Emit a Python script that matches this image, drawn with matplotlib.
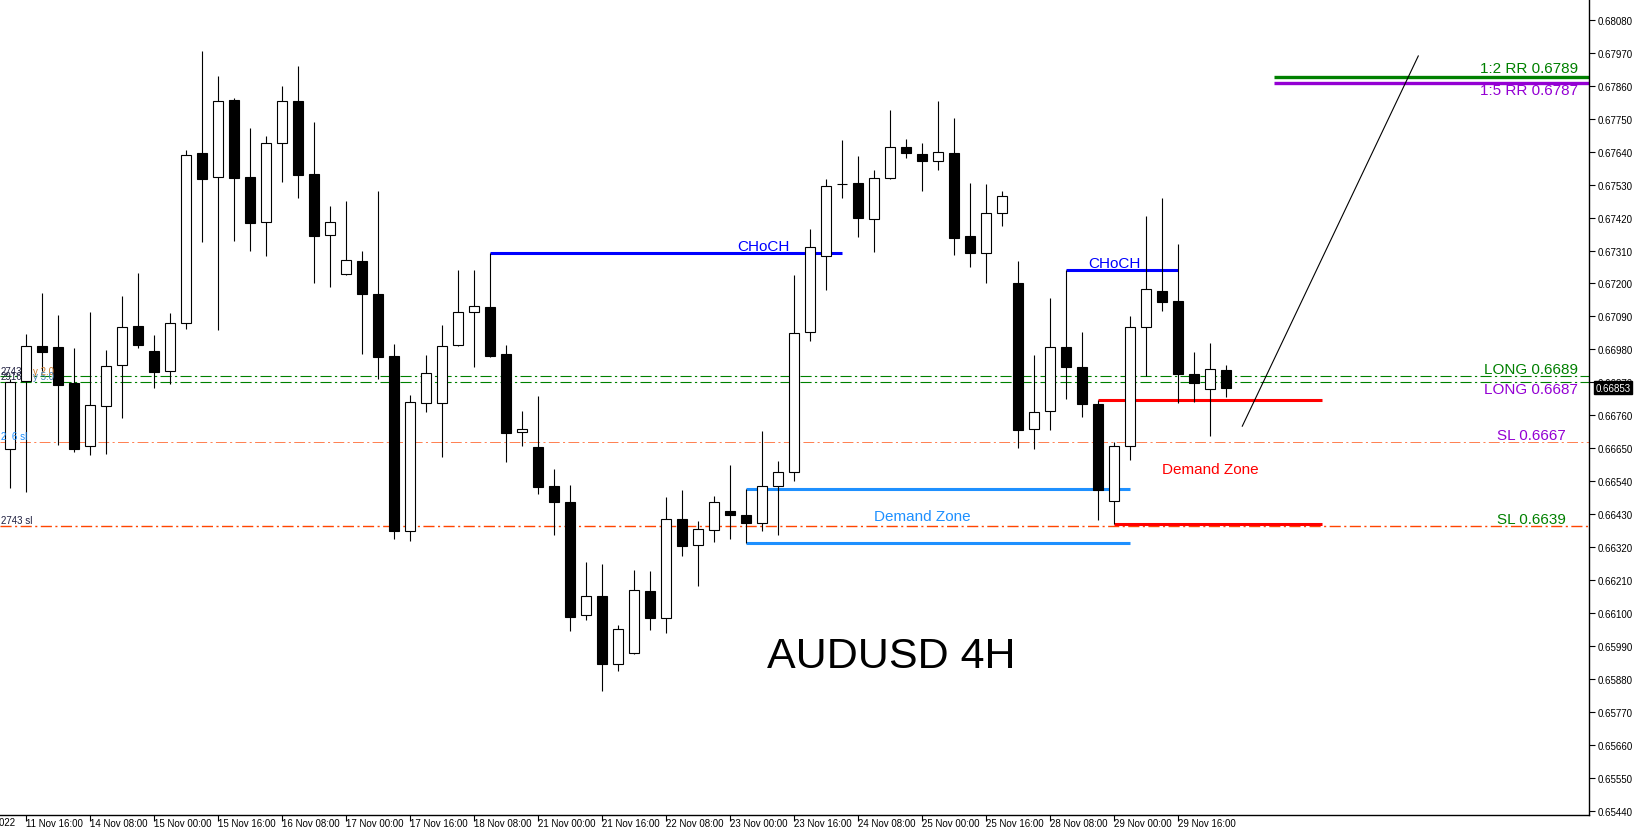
"""
AUDUSD 4H candlestick chart with trade levels (MT4 style screenshot).
"""

import matplotlib
matplotlib.use("Agg")  # no display needed
import matplotlib.pyplot as plt
from matplotlib.patches import Rectangle
from matplotlib.transforms import blended_transform_factory

plt.rcParams["font.family"] = ["Liberation Sans", "DejaVu Sans"]

# OHLC, one row per 4H bar starting 11 Nov 12:00
opens = [0.66648, 0.66875, 0.66991, 0.66988, 0.66868, 0.66658, 0.66791, 0.66928,
         0.67058, 0.66975, 0.66908, 0.67068, 0.67635, 0.67555, 0.67812, 0.67555,
         0.67405, 0.67669, 0.67809, 0.67565, 0.67362, 0.67232, 0.67275, 0.67165,
         0.66958, 0.66374, 0.66801, 0.66801, 0.66995, 0.67105, 0.67121, 0.66965,
         0.66704, 0.66654, 0.66524, 0.66471, 0.66094, 0.66157, 0.65930, 0.65967,
         0.66174, 0.66084, 0.66414, 0.66327, 0.66377, 0.66441, 0.66427, 0.66401,
         0.66524, 0.66571, 0.67038, 0.67292, 0.67531, 0.67535, 0.67415, 0.67552,
         0.67655, 0.67632, 0.67609, 0.67635, 0.67358, 0.67302, 0.67435, 0.67202,
         0.66714, 0.66774, 0.66988, 0.66921, 0.66798, 0.66474, 0.66658, 0.67055,
         0.67175, 0.67141, 0.66898, 0.66848, 0.66911]
highs = [0.66881, 0.67031, 0.67168, 0.67095, 0.66985, 0.67105, 0.66978, 0.67158,
         0.67235, 0.67028, 0.67101, 0.67645, 0.67976, 0.67892, 0.67819, 0.67719,
         0.67692, 0.67859, 0.67926, 0.67739, 0.67458, 0.67475, 0.67308, 0.67508,
         0.66998, 0.66828, 0.66961, 0.67061, 0.67245, 0.67245, 0.67302, 0.66995,
         0.66774, 0.66825, 0.66581, 0.66528, 0.66271, 0.66264, 0.66061, 0.66244,
         0.66241, 0.66488, 0.66511, 0.66407, 0.66491, 0.66594, 0.66514, 0.66708,
         0.66608, 0.67228, 0.67382, 0.67548, 0.67679, 0.67625, 0.67579, 0.67779,
         0.67682, 0.67669, 0.67809, 0.67752, 0.67535, 0.67532, 0.67508, 0.67275,
         0.66961, 0.67151, 0.67245, 0.67038, 0.66811, 0.66671, 0.67091, 0.67425,
         0.67485, 0.67332, 0.66971, 0.67001, 0.66928]
lows = [0.66518, 0.66504, 0.66908, 0.66661, 0.66638, 0.66628, 0.66631, 0.66751,
        0.66985, 0.66851, 0.66865, 0.67048, 0.67338, 0.67045, 0.67342, 0.67308,
        0.67292, 0.67539, 0.67485, 0.67202, 0.67188, 0.67228, 0.66965, 0.66881,
        0.66347, 0.66341, 0.66771, 0.66621, 0.66991, 0.66921, 0.66955, 0.66604,
        0.66658, 0.66498, 0.66361, 0.66041, 0.66077, 0.65840, 0.65907, 0.65964,
        0.66044, 0.66034, 0.66291, 0.66191, 0.66337, 0.66347, 0.66334, 0.66374,
        0.66361, 0.66541, 0.67008, 0.67178, 0.67485, 0.67355, 0.67305, 0.67548,
        0.67619, 0.67508, 0.67579, 0.67295, 0.67255, 0.67202, 0.67392, 0.66651,
        0.66648, 0.66711, 0.66815, 0.66754, 0.66411, 0.66397, 0.66611, 0.66891,
        0.67108, 0.66801, 0.66805, 0.66691, 0.66821]
closes = [0.66871, 0.66991, 0.66971, 0.66861, 0.66648, 0.66795, 0.66925, 0.67055,
          0.66995, 0.66905, 0.67068, 0.67629, 0.67548, 0.67809, 0.67552, 0.67402,
          0.67669, 0.67809, 0.67562, 0.67358, 0.67405, 0.67278, 0.67165, 0.66955,
          0.66374, 0.66805, 0.66901, 0.66991, 0.67105, 0.67125, 0.66958, 0.66701,
          0.66714, 0.66521, 0.66471, 0.66087, 0.66157, 0.65930, 0.66047, 0.66177,
          0.66084, 0.66414, 0.66324, 0.66381, 0.66471, 0.66427, 0.66401, 0.66524,
          0.66571, 0.67035, 0.67322, 0.67525, 0.67531, 0.67418, 0.67552, 0.67655,
          0.67635, 0.67609, 0.67639, 0.67352, 0.67302, 0.67435, 0.67492, 0.66711,
          0.66771, 0.66988, 0.66921, 0.66798, 0.66511, 0.66658, 0.67055, 0.67182,
          0.67138, 0.66898, 0.66868, 0.66915, 0.66853]

# time axis labels, one every 4 bars starting at bar 1
x_labels = ["11 Nov 16:00", "14 Nov 08:00", "15 Nov 00:00", "15 Nov 16:00",
            "16 Nov 08:00", "17 Nov 00:00", "17 Nov 16:00", "18 Nov 08:00",
            "21 Nov 00:00", "21 Nov 16:00", "22 Nov 08:00", "23 Nov 00:00",
            "23 Nov 16:00", "24 Nov 08:00", "25 Nov 00:00", "25 Nov 16:00",
            "28 Nov 08:00", "29 Nov 00:00", "29 Nov 16:00"]

y_ticks = [0.65440, 0.65550, 0.65660, 0.65770, 0.65880, 0.65990, 0.66100,
           0.66210, 0.66320, 0.66430, 0.66540, 0.66650, 0.66760, 0.66870,
           0.66980, 0.67090, 0.67200, 0.67310, 0.67420, 0.67530, 0.67640,
           0.67750, 0.67860, 0.67970, 0.68080]

# trade levels
long_levels = [0.6689, 0.6687]
sl_levels = [0.6667, 0.6639]
rr_levels = [0.6789, 0.6787]

# structure marks: (price, first bar, last bar)
choch_1 = (0.67302, 30, 52)
choch_2 = (0.67245, 66, 73)
demand_blue = (0.66514, 0.66334, 46, 70)
demand_red = (0.66811, 0.66397, 68, 69, 82)
trend_line = ([77, 88], [0.66724, 0.67959])
rr_start_bar = 79

GREEN = "#008000"
PURPLE = "#9400D3"
ORANGE = "#FF4500"
DASHDOT = (0, (10, 3, 2, 3))


def main() -> None:
    fig = plt.figure(figsize=(16.34, 8.37), dpi=100)
    fig.patch.set_facecolor("white")
    ax = fig.add_axes([0, 21 / 837, 1589 / 1634, 816 / 837])
    ax.set_xlim(-0.644, 98.67)
    ax.set_ylim(0.65427, 0.68149)

    for side in ("top", "left"):
        ax.spines[side].set_visible(False)
    for side in ("right", "bottom"):
        ax.spines[side].set_linewidth(1.0)

    # full-width horizontal levels
    for lvl in long_levels:
        ax.axhline(lvl, color=GREEN, lw=0.8, ls=DASHDOT, zorder=1)
    ax.axhline(sl_levels[0], color=ORANGE, lw=0.6, ls=(0, (13, 4, 2.5, 4)),
               alpha=0.8, zorder=1)
    ax.axhline(sl_levels[1], color=ORANGE, lw=1.0, ls=(0, (8, 2.5, 1.5, 2.5)),
               zorder=1)

    # candles
    n = len(opens)
    bars = list(range(n))
    ax.vlines(bars, lows, highs, color="black", lw=0.8, zorder=3)
    for i in bars:
        o, c = opens[i], closes[i]
        up = c >= o
        ax.add_patch(Rectangle((i - 0.31, min(o, c)), 0.62, abs(c - o),
                               facecolor="white" if up else "black",
                               edgecolor="black", lw=0.8, zorder=4))

    # CHoCH lines
    for price, b0, b1 in (choch_1, choch_2):
        ax.hlines(price, b0, b1, color="#0000FF", lw=2.2, zorder=2)
    ax.text(48.7, choch_1[0], "CHoCH", color="#0000FF", fontsize=11,
            ha="right", va="bottom", zorder=5)
    ax.text(69.0, choch_2[0], "CHoCH", color="#0000FF", fontsize=11,
            ha="center", va="bottom", zorder=5)

    # demand zones
    top, bot, b0, b1 = demand_blue
    ax.hlines([top, bot], b0, b1, color="#1E90FF", lw=2.2, zorder=2)
    ax.text(57.0, 0.66424, "Demand Zone", color="#1E90FF", fontsize=11,
            ha="center", va="center", zorder=5)

    top, bot, b_top, b_bot, b_end = demand_red
    ax.hlines(top, b_top, b_end, color="#FF0000", lw=2.2, zorder=2)
    ax.hlines(bot, b_bot, b_end, color="#FF0000", lw=2.2, zorder=2)
    ax.text(72.0, 0.66581, "Demand Zone", color="#FF0000", fontsize=11,
            ha="left", va="center", zorder=5)

    # targets
    ax.hlines(rr_levels[0], rr_start_bar, 98.67, color=GREEN, lw=2.4, zorder=2)
    ax.hlines(rr_levels[1], rr_start_bar, 98.67, color=PURPLE, lw=2.4, zorder=2)
    ax.plot(trend_line[0], trend_line[1], color="black", lw=0.8, zorder=3)

    # level descriptions at the right edge
    ax.text(98.0, rr_levels[0] + 0.00007, "1:2 RR 0.6789", color=GREEN, fontsize=11,
            ha="right", va="bottom", zorder=5)
    ax.text(98.0, rr_levels[1], "1:5 RR 0.6787", color=PURPLE, fontsize=11,
            ha="right", va="top", zorder=5)
    ax.text(98.0, long_levels[0], "LONG 0.6689", color=GREEN, fontsize=11,
            ha="right", va="bottom", zorder=5)
    ax.text(98.0, long_levels[1], "LONG 0.6687", color=PURPLE, fontsize=11,
            ha="right", va="top", zorder=5)
    ax.text(97.2, sl_levels[0], "SL 0.6667", color=PURPLE, fontsize=11,
            ha="right", va="bottom", zorder=5)
    ax.text(97.2, sl_levels[1], "SL 0.6639", color=GREEN, fontsize=11,
            ha="right", va="bottom", zorder=5)

    # cut-off descriptions of other lines at the left edge
    ax.text(-0.6, 0.66908, "2743", color="#202040", fontsize=7, va="center", zorder=5)
    ax.text(-0.6, 0.66890, "2916", color="#202040", fontsize=7, va="center", zorder=5)
    ax.text(1.4, 0.66908, "y 2.0", color="#C8782A", fontsize=7, va="center", zorder=5)
    ax.text(1.4, 0.66890, "y 5.0", color="#4682B4", fontsize=7, va="center", zorder=5)
    ax.text(-0.6, 0.66691, "2  6 sl", color="#1E90FF", fontsize=7, va="center", zorder=5)
    ax.text(-0.6, 0.66411, "2743 sl", color="#202040", fontsize=7, va="center", zorder=5)

    # title
    ax.text(55.05, 0.65957, "AUDUSD 4H", color="black", fontsize=31,
            ha="center", va="center", zorder=5)

    # axes ticks
    ax.set_xticks(range(1, n, 4))
    ax.set_xticklabels(x_labels)
    for lbl in ax.get_xticklabels():
        lbl.set_ha("left")
    ax.tick_params(axis="x", length=4, width=0.8, pad=-2, labelsize=7)

    ax.yaxis.tick_right()
    ax.set_yticks(y_ticks)
    ax.set_yticklabels([f"{v:.5f}" for v in y_ticks])
    ax.tick_params(axis="y", length=4, width=0.8, pad=2, labelsize=7)

    # truncated first date label at the far left
    fig.text(15 / 1634, 14 / 837, "11 Nov 2022", fontsize=7, ha="right", va="center")

    # current price box
    trans = blended_transform_factory(ax.transAxes, ax.transData)
    ax.text(1.004, closes[-1], f"{closes[-1]:.5f}", transform=trans,
            color="white", fontsize=7, ha="left", va="center", clip_on=False,
            zorder=6, bbox=dict(facecolor="black", edgecolor="black", pad=1.2))

    fig.savefig("out.png", dpi=100, facecolor="white")
    plt.close(fig)


if __name__ == "__main__":
    main()
